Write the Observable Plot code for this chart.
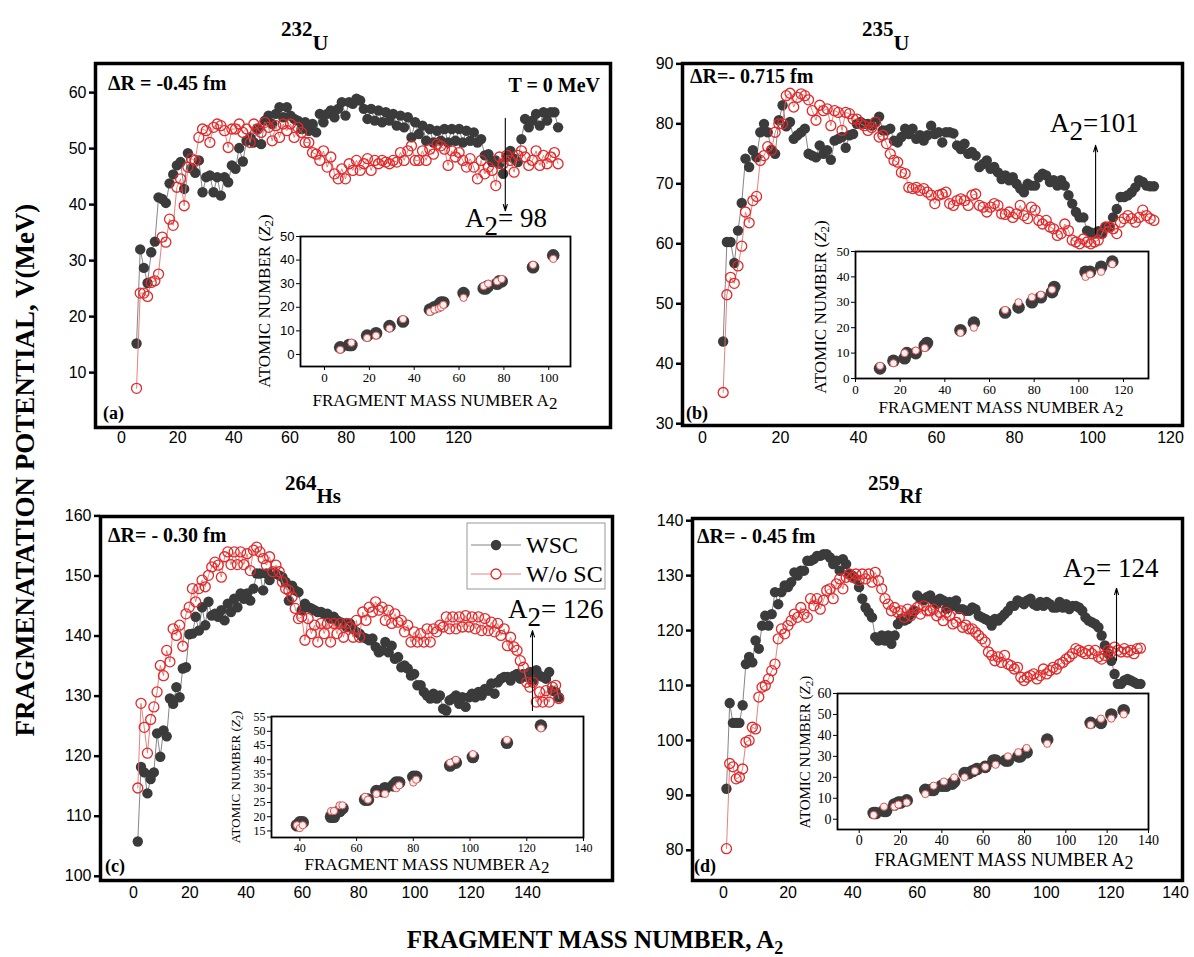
<!DOCTYPE html>
<html><head><meta charset="utf-8">
<script src="https://cdn.jsdelivr.net/npm/d3@7"></script>
<script src="https://cdn.jsdelivr.net/npm/@observablehq/plot@0.6"></script>
<style>
body{margin:0;background:#fff;}
#root{position:relative;width:1194px;height:957px;overflow:hidden;background:#fff;}
</style></head><body><div id="root"></div>
<script>
// ---------- data ----------
const massA = d3.range(1, 133); // fragment mass numbers A2 = 1,2,3,...

// (a) 232U
const aWSC = [15.2,32,28.7,26,31.5,33.4,41.3,41,40.3,43.8,
45.4,47,47.6,42.8,49.2,46.5,45.7,47.9,42.2,44.9,
45.2,42.2,44.9,41.6,44.9,44,47,46.4,50.1,47.7,
51.4,52,51.1,53.5,50.8,55,55.9,54.4,56.2,57.4,
55.6,57.4,55.9,55.3,55,53.5,54.7,53.2,54.4,52.9,
56.2,54.7,56.2,56.8,55.6,57.1,58.3,55.9,58.3,58,
58.9,58.6,57.1,55.3,57.1,55,56.8,54.7,56.5,55,
56.2,54.1,55.9,53.8,55.6,52,54.7,52.6,54.1,51.4,
53.5,51.1,53.2,51.4,53.5,51.1,53.5,51.4,53.5,51.1,
53.2,51.4,52.9,51.1,51.7,48.8,49,47.6,47.9,47.3,
45.5,48.5,49.6,48.2,47.6,51.7,55.3,53.8,55,56.2,
54.1,56.5,55,56.5,56.5,53.8];
const aWoSC = [7.2,24.2,24.2,23.6,26.1,26.4,27.6,34.2,33.3,37.4,
36.3,43.1,44.6,39.8,46.7,48.2,47.9,52,53.5,53.2,
51.1,53.8,54.4,54.1,53.2,50.2,53.5,53.5,54.4,52.9,
53.5,51.1,54.4,53.5,52.9,54.7,53.8,51.4,54.1,52,
54.4,53.2,54.4,52,53.8,52.9,51.1,51.1,49.3,49,
47.9,49.6,46.7,48.5,45.5,44.6,46.4,44.6,47.3,46.1,
47.9,46.1,47.3,48.2,46.1,47.9,47.3,47.9,47.6,47.3,
47.9,47.6,49.3,47.9,49.6,50.5,47.9,47.9,49.6,47.9,
49.9,49,50.8,50.5,49.9,47,49.6,48.5,49.3,47.9,
46.7,48.2,46.7,44.6,47.9,45.5,46.7,46.1,43.4,48.5,
47.3,48.8,47.9,45.8,48.8,49.6,48.5,47,47.9,49.6,
47,48.8,47.3,48.5,49.3,47.3];

// (b) 235U
const bWSC = [43.7,60.3,60.3,56.8,62.2,66.8,74.2,72.8,75.6,74.4,
78.6,80,78.6,75.6,75,80.6,83.1,79.6,80.3,77.5,
78.1,78.6,79.2,75,74.7,74.4,76.4,75,75.6,74,
77.2,77.5,77.8,76,78.1,78.3,80,80.3,80,80,
79.7,80.3,81.2,78.9,78.9,79.2,77.2,76.9,77.8,79.2,
78.3,79.2,77.5,78.1,77.2,78.1,79.7,78.3,78.6,76.9,
78.6,78.6,78.4,76.4,75.8,76.7,75,75.3,74.7,72.8,
73.3,73.9,72.5,72.8,71.9,70.8,71.4,70.6,71.1,70,
69.2,68.6,70,69.7,69.7,71.1,71.7,71.4,70.3,70.6,
69.7,70.6,69.7,68.1,66.7,65.3,64.4,64.4,62.2,61.9,
61.7,62.1,61.7,62.8,62.8,64.4,65.8,67.8,67.8,68.1,
68.6,69.4,70.6,70.3,69.7,69.6,69.6];
const bWoSC = [35.2,51.5,54.4,53.4,56.3,59.6,65.3,63.5,67.2,67.9,
73.9,74.7,76.2,75.6,78.6,80,80,84.7,85.1,82.8,
84.4,85,84.7,84,82.2,80.6,83.1,82.2,82.5,79.7,
82.2,81.9,78.9,81.9,81.7,80.8,80.8,80,79.7,78.9,
79.4,80.3,77.8,78.1,76.7,75,73.9,73.6,71.9,71.7,
69.4,69.2,69.4,68.9,69.2,68.6,68.1,66.7,68.1,68.3,
68.6,66.7,66.4,67.2,67.5,67.2,66.4,68.1,68.3,66.4,
66.1,65.3,66.1,66.7,66.4,65,64.9,65.3,64.4,65,
66.4,64.7,64.2,66.1,65.6,63.9,63.3,63.9,62.8,62.5,
61.4,61.7,63.3,62.2,60.6,60.3,60,60.8,60.3,60,
60.3,60.6,61.7,62.8,62.8,62.5,61.7,63.6,64.2,64.7,
64.2,63.6,64.4,65.6,64.7,64.2,63.9];

// (c) 264Hs
const cWSC = [105.8,118.2,117.3,113.8,116.2,117.3,123.8,119.9,124.3,123.3,
129.6,128.7,131.5,129.8,134.6,134.8,140.3,140.4,143.2,140.9,
144.8,141.8,145.7,143.4,143.7,143.2,144.3,142.6,145.4,144,
146.2,144.8,147.1,146.2,147.1,145.9,147.9,150.4,150.4,147.6,
150.4,149.3,150.5,150.4,150.1,149.8,149,145.9,148.4,147.6,
147.3,144.3,145.4,144.8,144.6,144.3,144,144,143.7,143.7,
142.9,143.2,142.6,142.3,142.1,141.5,142.1,141.2,140.7,140.4,
139.8,139.6,139.3,139.6,138.2,137.3,137.6,139,137.3,138.4,
136.2,136.5,134.8,135.1,134.6,133.4,133.7,131.8,131.8,130.7,
130.1,129.6,130.4,129.6,130.1,127.9,127.6,129.3,129.6,130.1,
128.7,129.8,128.2,129.8,130.4,129.8,130.7,130.1,131.2,130.9,
132.1,130.4,132.3,132.9,133.2,133.2,132.6,133.4,133.7,132.9,
133.7,133.2,134,132.6,134.3,133.4,133.2,132.9,134,130.9,
130.7,129.8];
const cWoSC = [114.7,128.8,124.8,120.5,126.1,128.2,130.7,135.1,133.4,137.6,
135.7,141.2,140.1,141.8,138.3,143.7,144.8,147.9,145.7,147.9,
149.3,148.2,150.1,151.5,152.3,151.8,149.8,153.2,154,151.9,
154,151.9,154,151.9,153.7,150.9,154.3,154.8,154,152.9,
151.8,153.2,150.7,151.8,150.7,149,147.9,147.6,146.5,144.6,
142.9,143.2,139.3,142.9,140.4,141.8,139,142.1,140.4,142.1,
139,142.1,140.4,142.1,139.8,142.1,141.5,139.8,142.6,139.8,
144,142.6,144.8,144,145.7,144.3,144.8,142.6,144.3,142.1,
143.7,142.3,142.6,140.7,141.8,139,140.7,139,140.4,139,
141.2,139,141.2,140.7,141.8,141.5,143.2,141.2,143.2,141.2,
143.2,141.5,143.4,141.5,143.2,141.2,143.2,140.9,142.9,140.9,
142.3,140.7,142.1,140.1,141.2,138.4,139.8,138.2,137.6,135.9,
134.8,132.3,131.5,132.3,129,130.7,129,130.9,129,131.5,
131.8,129.6];

// (d) 259Rf
const dWSC = [91.2,106.8,103.2,103.2,103.2,106.4,113.9,115.2,114.2,118.2,
116.7,120.9,122.7,120.9,123,127,124.8,127,128.2,127.9,
128.8,130.6,130,130.9,130.9,132.7,132.7,133,133.6,133.6,
133.9,133.9,133.3,132.1,132.7,130.9,133,132.1,130.3,130,
129.4,127.9,125.8,124.2,123.3,122.4,118.8,118.2,119.1,118.2,
119.1,117.6,119.1,121.2,122.1,121.8,122.1,123,123.6,126.4,
125.8,125.5,126.1,126.4,125.5,124.8,125.8,125.5,123.9,125.2,
124.5,125.5,123.9,123.9,123.6,123.6,124.2,123.9,122.7,122.4,
122.1,121.8,120.9,122.1,121.8,122.4,123,123.6,124.5,124.5,
125.5,125.2,124.8,125.5,125.8,124.8,124.5,125.2,124.5,125.2,
124.8,124.2,124.2,125.2,124.2,124.8,123.9,124.5,124.5,124.2,
123.6,122.4,121.8,121.5,121.2,120.6,119.1,117.3,115.8,114.5,
112.1,110.3,110.3,110.9,111.2,110.9,110.6,110.3,110.3];
const dWoSC = [80.3,95.8,95.2,93,93.3,94.8,99.7,100,102.4,102.1,
107.9,109.7,110,111.2,112.7,113.9,118.5,120.3,119.4,120.9,
121.8,123,122.4,124.2,123,122.4,125.8,124.5,125.8,123.9,
125.5,127.3,127.6,125.8,128.5,129.4,127.6,129.7,130.3,129.7,
130.3,129.1,130.3,129.4,130.3,128.8,130.6,129.1,127.6,125.8,
124.8,123.6,124.2,123.3,123.6,122.4,123.9,122.7,123.6,124.2,
123,124.5,123.6,123.6,123.9,122.7,123.3,121.8,123.3,122.7,
121.2,121.5,122.4,120.6,121,120.3,120.3,119.7,119.1,118.5,
117.9,116.1,115.5,114.5,115.2,114.2,115.5,113.9,113.6,113,
113.3,111.5,110.9,111.5,111.8,112.1,111.2,111.8,113,112.1,
112.7,113.3,113,113.9,114.2,114.8,115.2,115.8,116.7,116.4,
116.1,115.8,116.4,115.8,116.4,115.2,114.8,115.5,116.4,116.1,
117,116.4,116.1,116.7,116.1,116.4,115.8,116.7,116.8];

// insets: atomic number Z2 vs A2
const inAwA = [7,11,12,19,23,29,35,47,49,51,52,53,62,71,72,73,77,78,79,93,102];
const inAwZ = [3,4,4,8,9,12,14,19,20,21,22,22,26,28,28,29,30,31,31,37,42];
const inAoA = [7,12,19,23,29,35,47,49,51,52,53,62,71,73,77,79,93,102];
const inAoZ = [2,5,7,8,11,15,18,19,19.5,20,21,24,29,30,31,32,38,40.5];

const inBwA = [11,17,22,23,27,31,32,47,53,67,73,79,83,88,89,103,105,110,115];
const inBwZ = [4,7,8,10,10,13,14,19,22,26,28,30,32,34,36,42,42,44,46];
const inBoA = [11,17,22,27,31,47,53,67,73,79,83,88,103,105,110,115];
const inBoZ = [5,6,10,11,12,18,20,27,30,32,33,35,40,41,42,45];

const inCwA = [39,40,41,51,52,54,55,63,64,67,69,70,73,74,75,80,81,93,95,101,113,125];
const inCwZ = [17,18,18,20,20,22,23,26,26,29,29,30,31,32,32,34,34,38,39,41,46,52];
const inCoA = [39,40,41,51,52,54,55,63,64,67,70,74,75,80,81,93,95,101,113,125];
const inCoZ = [17,16,17,22,22,24,24,27,26,28,28,30,31,32,33,39,40,42,47,51];

const inDwA = [7,8,12,13,17,19,20,23,32,35,36,40,42,45,46,51,53,55,57,61,65,66,71,72,77,78,81,91,112,117,122,128];
const inDwZ = [3,3,4,4,7,8,8,9,14,14,14,16,16,17,18,22,22,23,24,25,28,28,28,28,30,30,32,38,46,46,50,52];
const inDoA = [7,12,17,19,23,32,36,41,46,51,56,61,66,72,77,81,91,112,117,122,128];
const inDoZ = [2,6,6,7,8,12,16,18,20,20,23,25,26,30,32,34,36,45,48,48,50];

const xTickLabels = [0,20,40,60,80,100,120,140];

// ---------- layout helpers ----------
const root = document.getElementById("root");
function put(el, left, top) {
  el.style.position = "absolute";
  el.style.left = left + "px";
  el.style.top = top + "px";
  root.appendChild(el);
}
const SERIF = "'Liberation Serif','Times New Roman',serif";
const SANS = "'Liberation Sans',Arial,sans-serif";

function mainPanel(p) {
  const mL = 60, mR = 4, mT = 4, mB = 4;
  const f = p.frame, W = f.r - f.l, H = f.b - f.t;
  const ws = p.wsc.map((v, i) => ({A: massA[i], V: v}));
  const wo = p.wo.map((v, i) => ({A: massA[i], V: v}));
  const plot = Plot.plot({
    width: W + mL + mR, height: H + mT + mB,
    marginLeft: mL, marginRight: mR, marginTop: mT, marginBottom: mB,
    style: {background: "transparent", fontFamily: SANS, fontSize: "16px", color: "#000", overflow: "visible"},
    x: {domain: p.xDomain, axis: null},
    y: {domain: p.yDomain},
    marks: [
      Plot.line(ws, {x: "A", y: "V", stroke: "#777", strokeWidth: 0.9}),
      Plot.dot(ws, {x: "A", y: "V", r: 5.2, fill: "#3b3b3b"}),
      Plot.line(wo, {x: "A", y: "V", stroke: "#e57272", strokeWidth: 0.9}),
      Plot.dot(wo, {x: "A", y: "V", r: 5, stroke: "#e12a2a", strokeWidth: 1.3, fill: "none"}),
      Plot.arrow([p.arrow], {x1: "x", x2: "x", y1: "y1", y2: "y2", stroke: "#000", strokeWidth: 1.1, headLength: 9, headAngle: 35}),
      Plot.axisY({ticks: p.yTicks, tickSize: 6, tickPadding: 3, strokeWidth: 2.5, label: null}),
      Plot.frame({stroke: "#000", strokeWidth: 3.5})
    ]
  });
  put(plot, f.l - mL, f.t - mT);
}

function xAxisRow(a) {
  // a: px0 (pixel of value 0), px1 (pixel of value v1), v1, top (pixel row of the axis line)
  const mL = 20, mR = 20;
  const plot = Plot.plot({
    width: (a.px1 - a.px0) + mL + mR, height: 26,
    marginLeft: mL, marginRight: mR, marginTop: 0, marginBottom: 26,
    style: {background: "transparent", fontFamily: SANS, fontSize: "16px", color: "#000", overflow: "visible"},
    x: {domain: [0, a.v1], axis: null},
    marks: [
      Plot.axisX({ticks: xTickLabels.filter(t => t <= a.v1), tickSize: 0, tickPadding: 3, label: null, anchor: "bottom"})
    ]
  });
  put(plot, a.px0 - mL, a.top);
}

function insetPanel(q) {
  const mL = 34, mR = 6, mT = 4, mB = 24;
  const f = q.frame, W = f.r - f.l, H = f.b - f.t;
  const ws = q.wA.map((a, i) => ({A: a, Z: q.wZ[i]}));
  const wo = q.oA.map((a, i) => ({A: a, Z: q.oZ[i]}));
  const plot = Plot.plot({
    width: W + mL + mR, height: H + mT + mB,
    marginLeft: mL, marginRight: mR, marginTop: mT, marginBottom: mB,
    style: {background: "transparent", fontFamily: SERIF, fontSize: q.fs + "px", color: "#000", overflow: "visible"},
    x: {domain: q.xDomain, axis: null},
    y: {domain: q.yDomain, axis: null},
    marks: [
      Plot.frame({fill: "#fff"}),
      Plot.dot(ws, {x: "A", y: "Z", r: 6.3, fill: "#3c3c3c"}),
      Plot.dot(wo, {x: "A", y: "Z", r: 3.6, fill: "#fdf0f0", stroke: "#e05555", strokeWidth: 1}),
      Plot.axisX({ticks: q.xTicks, tickSize: 4, tickPadding: 2, label: null}),
      Plot.axisY({ticks: q.yTicks, tickSize: 4, tickPadding: 2, label: null, fontFamily: q.yFamily || SERIF}),
      Plot.frame({stroke: "#000", strokeWidth: 1.8})
    ]
  });
  put(plot, f.l - mL, f.t - mT);
}

// ---------- main panels ----------
mainPanel({frame: {l: 95, r: 610, t: 63, b: 427}, xDomain: [-10.2, 130.3], yDomain: [0.2, 65.2],
  yTicks: [10, 20, 30, 40, 50, 60], wsc: aWSC, wo: aWoSC, arrow: {x: 101.6, y1: 55.4, y2: 38.9}});
mainPanel({frame: {l: 682, r: 1182, t: 63, b: 425}, xDomain: [-9.95, 124.7], yDomain: [29.7, 90.06],
  yTicks: [30, 40, 50, 60, 70, 80, 90], wsc: bWSC, wo: bWoSC, arrow: {x: 101.3, y1: 61.7, y2: 76.4}});
mainPanel({frame: {l: 100, r: 612, t: 516, b: 880}, xDomain: [-10.6, 148.7], yDomain: [99.3, 159.9],
  yTicks: [100, 110, 120, 130, 140, 150, 160], wsc: cWSC, wo: cWoSC, arrow: {x: 123.8, y1: 127.6, y2: 140.9}});
mainPanel({frame: {l: 692, r: 1182, t: 518, b: 880}, xDomain: [-9.5, 142], yDomain: [74.5, 140.4],
  yTicks: [80, 90, 100, 110, 120, 130, 140], wsc: dWSC, wo: dWoSC, arrow: {x: 121.6, y1: 114.6, y2: 127.7}});

xAxisRow({px0: 121, px1: 458, v1: 120, top: 428});
xAxisRow({px0: 702, px1: 1170, v1: 120, top: 428});
xAxisRow({px0: 133, px1: 527, v1: 140, top: 883});
xAxisRow({px0: 723, px1: 1175, v1: 140, top: 883});

// ---------- insets ----------
insetPanel({frame: {l: 300, r: 570, t: 236, b: 366}, xDomain: [-10.7, 109.7], yDomain: [-5.1, 50],
  xTicks: [0, 20, 40, 60, 80, 100], yTicks: [0, 10, 20, 30, 40, 50], fs: 13, yFamily: SANS,
  wA: inAwA, wZ: inAwZ, oA: inAoA, oZ: inAoZ});
insetPanel({frame: {l: 855, r: 1148, t: 251, b: 378}, xDomain: [0, 131.2], yDomain: [0, 50],
  xTicks: [0, 20, 40, 60, 80, 100, 120], yTicks: [0, 10, 20, 30, 40, 50], fs: 13,
  wA: inBwA, wZ: inBwZ, oA: inBoA, oZ: inBoZ});
insetPanel({frame: {l: 271, r: 583, t: 716, b: 837}, xDomain: [30, 140], yDomain: [12.7, 55.2],
  xTicks: [40, 60, 80, 100, 120, 140], yTicks: [15, 20, 25, 30, 35, 40, 45, 50, 55], fs: 12,
  wA: inCwA, wZ: inCwZ, oA: inCoA, oZ: inCoZ});
insetPanel({frame: {l: 837, r: 1148, t: 693, b: 829}, xDomain: [-10.5, 140], yDomain: [-4.9, 60],
  xTicks: [0, 20, 40, 60, 80, 100, 120, 140], yTicks: [0, 10, 20, 30, 40, 50, 60], fs: 14,
  wA: inDwA, wZ: inDwZ, oA: inDoA, oZ: inDoZ});

// ---------- text overlay ----------
const ov = d3.create("svg").attr("width", 1194).attr("height", 957)
  .style("position", "absolute").style("left", "0px").style("top", "0px").style("overflow", "visible");
root.appendChild(ov.node());

function addText(x, y, segs, o = {}) {
  const t = ov.append("text").attr("x", x).attr("y", y)
    .attr("font-family", o.family || SERIF)
    .attr("font-size", o.size || 16)
    .attr("font-weight", o.weight || "normal")
    .attr("text-anchor", o.anchor || "start")
    .attr("fill", "#000");
  if (o.rotate) t.attr("transform", `rotate(${o.rotate},${x},${y})`);
  let cur = 0;
  for (const s of segs) {
    const sp = t.append("tspan").text(s.t);
    const want = s.dy || 0;
    if (want !== cur) sp.attr("dy", want - cur);
    cur = want;
    if (s.size) sp.attr("font-size", s.size);
    if (s.it) sp.attr("font-style", "italic");
  }
  return t;
}

// titles
addText(281, 36, [{t: "232", size: 21}, {t: "U", dy: 14, size: 22}], {weight: "bold"});
addText(862, 36, [{t: "235", size: 21}, {t: "U", dy: 14, size: 22}], {weight: "bold"});
addText(285, 490, [{t: "264", size: 21}, {t: "Hs", dy: 13, size: 21}], {weight: "bold"});
addText(868, 490, [{t: "259", size: 21}, {t: "Rf", dy: 13, size: 21}], {weight: "bold"});

// delta R labels
addText(108, 90, [{t: "ΔR = -0.45 fm"}], {weight: "bold", size: 20});
addText(690, 83, [{t: "ΔR=- 0.715 fm"}], {weight: "bold", size: 20});
addText(108, 542, [{t: "ΔR= - 0.30 fm"}], {weight: "bold", size: 20});
addText(697, 543, [{t: "ΔR= - 0.45 fm"}], {weight: "bold", size: 20});
addText(600, 92, [{t: "T = 0 MeV"}], {weight: "bold", size: 20, anchor: "end"});

// panel tags
addText(103, 419, [{t: "(a)"}], {weight: "bold", size: 18});
addText(686, 419, [{t: "(b)"}], {weight: "bold", size: 18});
addText(105, 872, [{t: "(c)"}], {weight: "bold", size: 18});
addText(694, 872, [{t: "(d)"}], {weight: "bold", size: 18});

// A2 annotations
addText(465, 227, [{t: "A"}, {t: "2", dy: 8}, {t: "= 98", dy: 0}], {size: 27});
addText(1050, 132, [{t: "A"}, {t: "2", dy: 8}, {t: "=101", dy: 0}], {size: 27});
addText(508, 618, [{t: "A"}, {t: "2", dy: 8}, {t: "= 126", dy: 0}], {size: 27});
addText(1063, 577, [{t: "A"}, {t: "2", dy: 8}, {t: "= 124", dy: 0}], {size: 27});

// inset axis labels
addText(435, 406, [{t: "FRAGMENT MASS NUMBER A"}, {t: "2", dy: 3}], {size: 17, anchor: "middle"});
addText(1001, 413, [{t: "FRAGMENT MASS NUMBER A"}, {t: "2", dy: 3}], {size: 17, anchor: "middle"});
addText(427, 870, [{t: "FRAGMENT MASS NUMBER A"}, {t: "2", dy: 3}], {size: 17, anchor: "middle"});
addText(1004, 866, [{t: "FRAGMENT MASS NUMBER A"}, {t: "2", dy: 3}], {size: 18, anchor: "middle"});

addText(270, 301, [{t: "ATOMIC NUMBER ("}, {t: "Z", it: true}, {t: "2", dy: 3, size: 13}, {t: ")", dy: 0}], {size: 17, anchor: "middle", rotate: -90});
addText(826, 307, [{t: "ATOMIC NUMBER ("}, {t: "Z", it: true}, {t: "2", dy: 3, size: 13}, {t: ")", dy: 0}], {size: 17, anchor: "middle", rotate: -90});
addText(240, 777, [{t: "ATOMIC NUMBER  ("}, {t: "Z", it: true}, {t: "2", dy: 3, size: 10}, {t: ")", dy: 0}], {size: 13, anchor: "middle", rotate: -90});
addText(810, 752, [{t: "ATOMIC NUMBER ("}, {t: "Z", it: true}, {t: "2", dy: 3, size: 11}, {t: ")", dy: 0}], {size: 15, anchor: "middle", rotate: -90});

// global axis titles
addText(34, 470, [{t: "FRAGMENATATION POTENTIAL, V(MeV)"}], {size: 27, weight: "bold", anchor: "middle", rotate: -90});
addText(595, 948, [{t: "FRAGMENT MASS NUMBER, A"}, {t: "2", dy: 6, size: 18}], {size: 25, weight: "bold", anchor: "middle"});

// legend (panel c)
ov.append("rect").attr("x", 467).attr("y", 523).attr("width", 138).attr("height", 66)
  .attr("fill", "#fff").attr("stroke", "#999").attr("stroke-width", 1);
ov.append("line").attr("x1", 471).attr("x2", 521).attr("y1", 545).attr("y2", 545).attr("stroke", "#777").attr("stroke-width", 0.9);
ov.append("circle").attr("cx", 496).attr("cy", 545).attr("r", 5.2).attr("fill", "#3b3b3b");
ov.append("line").attr("x1", 471).attr("x2", 521).attr("y1", 574).attr("y2", 574).attr("stroke", "#e57272").attr("stroke-width", 0.9);
ov.append("circle").attr("cx", 496).attr("cy", 574).attr("r", 5).attr("fill", "#fff").attr("stroke", "#e12a2a").attr("stroke-width", 1.3);
addText(526, 553, [{t: "WSC"}], {size: 24});
addText(526, 582, [{t: "W/o SC"}], {size: 24});
</script></body></html>
